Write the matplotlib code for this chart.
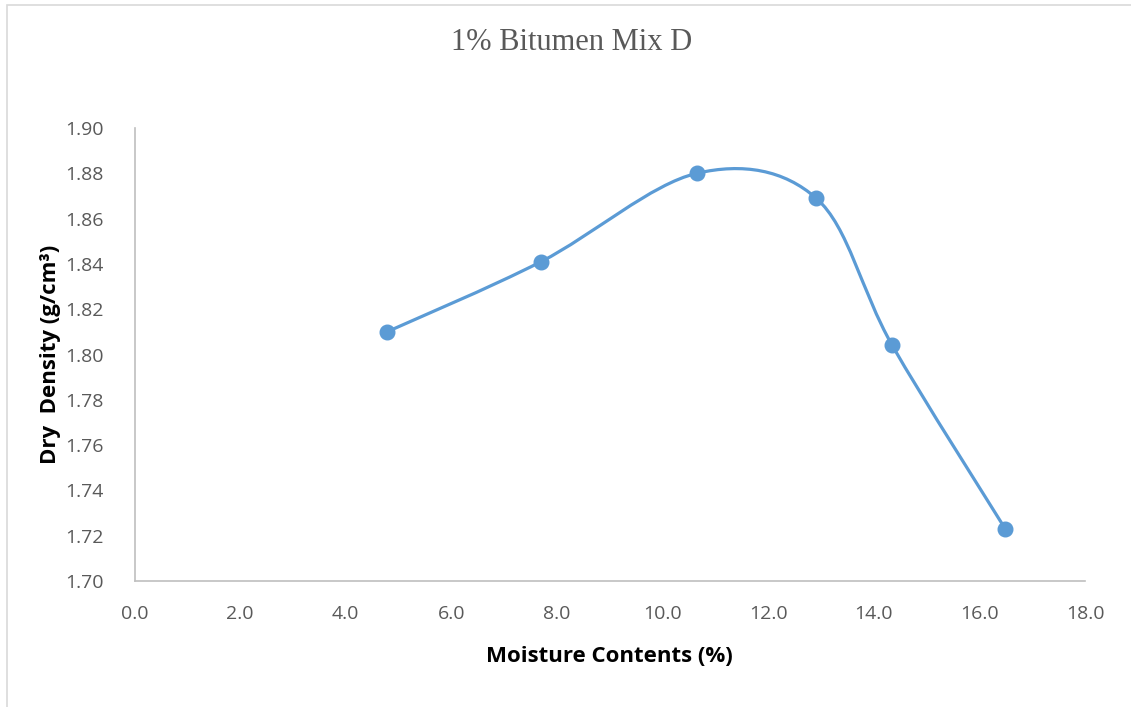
import numpy as np
import matplotlib
matplotlib.use("Agg")
import matplotlib.pyplot as plt
from matplotlib.path import Path
from matplotlib.patches import PathPatch, Rectangle

# moisture content (%) vs dry density (g/cm3)
moisture = [4.78, 7.70, 10.65, 12.91, 14.35, 16.49]
density = [1.810, 1.841, 1.880, 1.869, 1.804, 1.723]

x_ticks = np.arange(0, 18.01, 2.0)
y_ticks = np.arange(1.70, 1.901, 0.02)

BLUE = "#5B9BD5"
GREY_TXT = "#595959"


def smooth_path(xs, ys):
    """Excel-style smoothed line: Catmull-Rom segments as cubic Beziers."""
    p = np.column_stack([xs, ys]).astype(float)
    ext = np.vstack([p[0], p, p[-1]])
    verts = [p[0]]
    codes = [Path.MOVETO]
    for i in range(1, len(ext) - 2):
        p0, p1, p2, p3 = ext[i - 1], ext[i], ext[i + 1], ext[i + 2]
        c1 = p1 + (p2 - p0) / 6.0
        c2 = p2 - (p3 - p1) / 6.0
        verts += [c1, c2, p2]
        codes += [Path.CURVE4] * 3
    return Path(verts, codes)


fig = plt.figure(figsize=(11.31, 7.07), dpi=100)
fig.patches.append(Rectangle((7 / 1131, -0.1), 1.2, (707 - 5) / 707 + 0.1,
                             transform=fig.transFigure, fill=False,
                             edgecolor="#D9D9D9", lw=1.2))

ax = fig.add_axes([134.5 / 1131, 1 - 581 / 707, (1085 - 134.5) / 1131, (581 - 128) / 707])
ax.add_patch(PathPatch(smooth_path(moisture, density), facecolor="none",
                       edgecolor=BLUE, lw=2.3, capstyle="round", zorder=2))
ax.plot(moisture, density, "o", color=BLUE, ms=10.5, zorder=3)

ax.set_xlim(0, 18)
ax.set_ylim(1.70, 1.90)
ax.set_xticks(x_ticks, [f"{v:.1f}" for v in x_ticks])
ax.set_yticks(y_ticks, [f"{v:.2f}" for v in y_ticks])
ax.tick_params(length=0, labelsize=14, labelcolor=GREY_TXT)
ax.tick_params(axis="y", pad=22)
ax.tick_params(axis="x", pad=17)
for lab in ax.get_xticklabels() + ax.get_yticklabels():
    lab.set_family("Open Sans")
for side in ("top", "right"):
    ax.spines[side].set_visible(False)
for side in ("left", "bottom"):
    ax.spines[side].set_color("#BFBFBF")
    ax.spines[side].set_linewidth(1.2)

ax.set_xlabel("Moisture Contents (%)", fontsize=16, fontweight="bold",
              family="Open Sans", labelpad=17)
ax.set_ylabel("Dry  Density (g/cm³)", fontsize=16, fontweight="bold",
              family="Open Sans", labelpad=3)
fig.text(572 / 1131, 1 - 43 / 707, "1% Bitumen Mix D", ha="center", va="center",
         fontsize=22, color=GREY_TXT, family="Liberation Serif")

fig.savefig("out.png", dpi=100)
